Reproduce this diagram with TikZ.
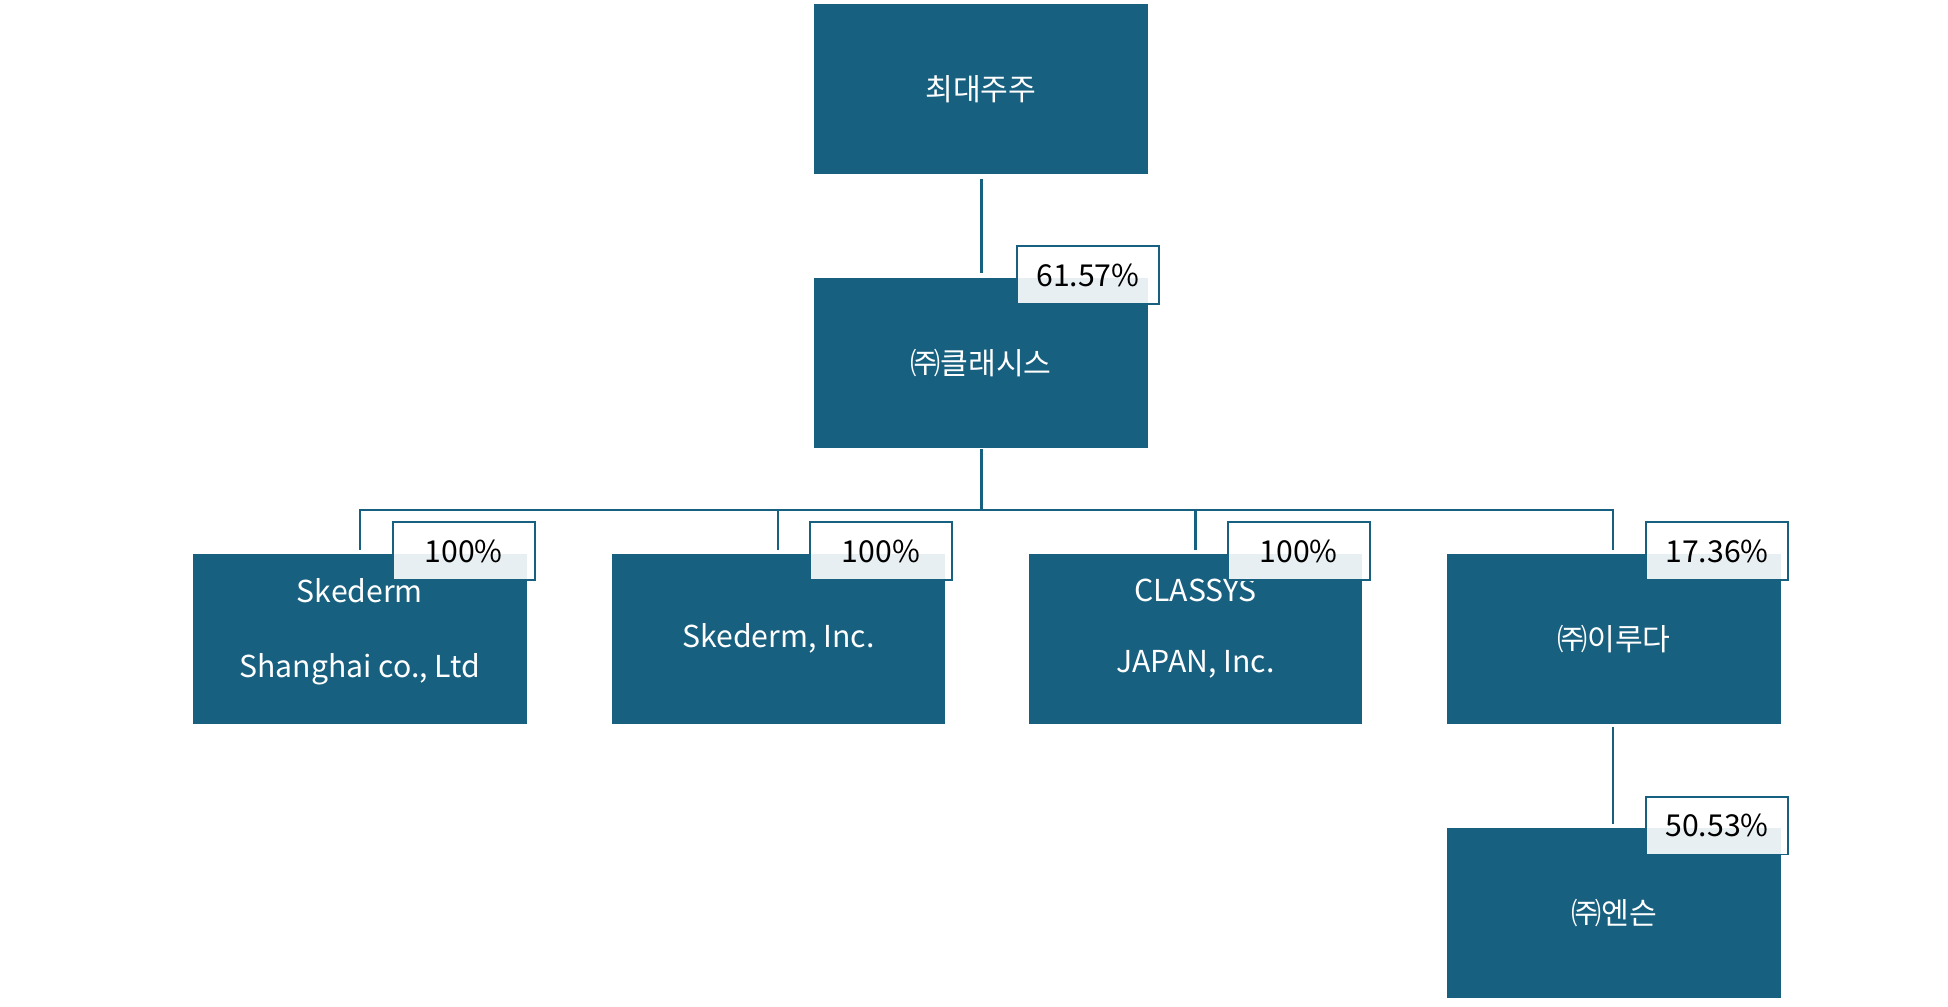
\documentclass[tikz,border=0pt]{standalone}
\usepackage{fontspec}
\setmainfont{Noto Sans CJK KR}
\definecolor{teal1}{HTML}{17607F}
\begin{document}
\begin{tikzpicture}[x=1pt,y=-1pt,
  box/.style={fill=teal1,text=white,minimum width=265pt,minimum height=135pt,inner sep=0pt,font=\fontsize{24}{30}\selectfont,align=center},
  pct/.style={draw=teal1,line width=1.5pt,fill=white,fill opacity=0.9,text opacity=1,minimum width=113pt,minimum height=46pt,inner sep=0pt,font=\fontsize{24}{30}\selectfont},
  ln/.style={draw=teal1,line width=1.8pt}]
\useasboundingbox (0,0) rectangle (1548,800);
\node[box] (top) at (779.5,70.5) {최대주주};
\node[box] (cls) at (779.5,288.5) {㈜클래시스};
\node[box] (b1) at (286,507.5) {};
\node at (286,469) [text=white,font=\fontsize{24}{30}\selectfont] {Skederm};
\node at (286,532) [text=white,font=\fontsize{24}{30}\selectfont] {Shanghai co., Ltd};
\node[box] (b2) at (618.5,507.5) {Skederm, Inc.};
\node[box] (b3) at (950,507.5) {};
\node at (950,469) [text=white,font=\fontsize{24}{30}\selectfont] {CLASSYS};
\node at (950,528) [text=white,font=\fontsize{24}{30}\selectfont] {JAPAN, Inc.};
\node[box] (b4) at (1282.5,507.5) {㈜이루다};
\node[box] (b5) at (1282.5,725.5) {㈜엔슨};
\coordinate (t0) at (780,142); \coordinate (t1) at (780,217);
\draw[ln] (t0)--(t1);
\coordinate (c0) at (780,357); \coordinate (c1) at (780,405);
\draw[ln] (c0)--(c1);
\draw[ln] (286,437)--(286,405)--(1282,405)--(1282,437);
\draw[ln] (618,405)--(618,437);
\draw[ln] (950,405)--(950,437);
\coordinate (i0) at (1282,578); \coordinate (i1) at (1282,655);
\draw[ln] (i0)--(i1);
\node[pct] at (864.5,218.5) {61.57\%};
\node[pct] at (368.5,438) {100\%};
\node[pct] at (700,438) {100\%};
\node[pct] at (1032,438) {100\%};
\node[pct] at (1364.5,438) {17.36\%};
\node[pct] at (1364.5,656) {50.53\%};
\end{tikzpicture}
\end{document}
